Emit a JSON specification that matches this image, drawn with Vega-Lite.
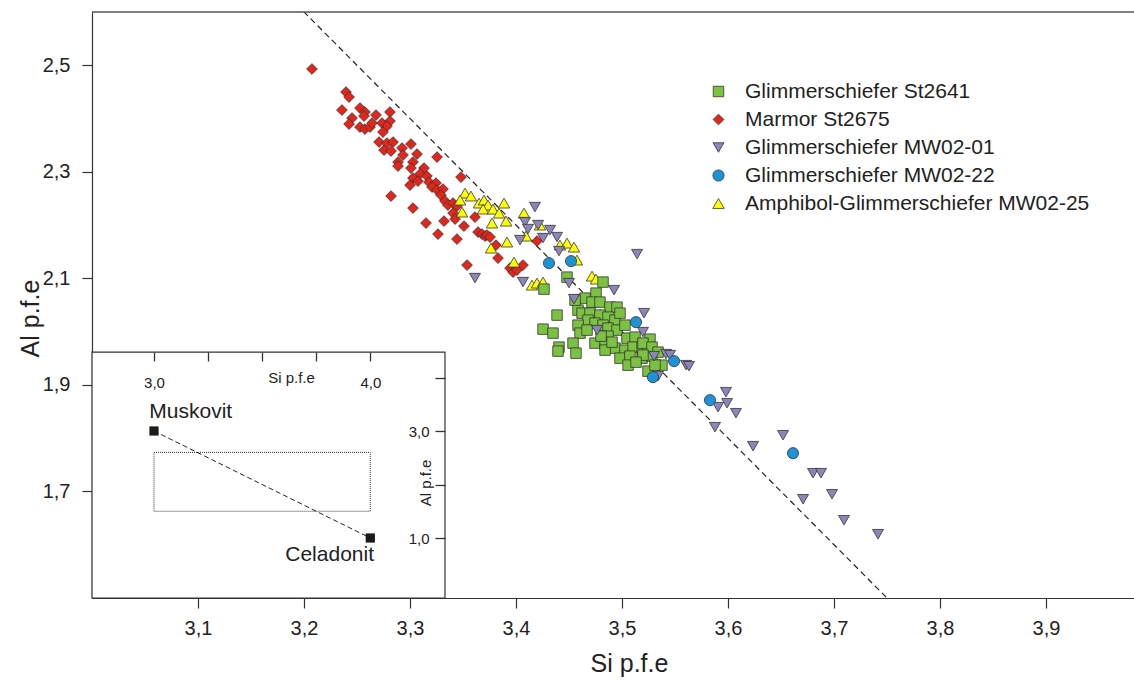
{
  "$schema": "https://vega.github.io/schema/vega-lite/v6.json",
  "width": 1042,
  "height": 586,
  "autosize": "none",
  "padding": {"left": 92, "top": 12, "right": 0, "bottom": 83},
  "background": "white",
  "config": {
    "view": {"stroke": null},
    "font": "Liberation Sans",
    "axis": {"grid": false, "domainColor": "#333", "tickColor": "#333", "labelColor": "#222", "titleColor": "#222", "labelFont": "Liberation Sans", "titleFont": "Liberation Sans", "titleFontWeight": "normal", "domainWidth": 1.2, "tickWidth": 1.2, "labelFlush": false},
    "legend": {"labelFont": "Liberation Sans"}
  },
  "datasets": {
    "punkte": [
      {"Serie": "Marmor St2675", "Si": 3.2075, "Al": 2.4930},
      {"Serie": "Marmor St2675", "Si": 3.2396, "Al": 2.4498},
      {"Serie": "Marmor St2675", "Si": 3.2425, "Al": 2.4404},
      {"Serie": "Marmor St2675", "Si": 3.2358, "Al": 2.4160},
      {"Serie": "Marmor St2675", "Si": 3.2528, "Al": 2.4197},
      {"Serie": "Marmor St2675", "Si": 3.2575, "Al": 2.4122},
      {"Serie": "Marmor St2675", "Si": 3.2566, "Al": 2.4047},
      {"Serie": "Marmor St2675", "Si": 3.2453, "Al": 2.4009},
      {"Serie": "Marmor St2675", "Si": 3.2425, "Al": 2.3897},
      {"Serie": "Marmor St2675", "Si": 3.2528, "Al": 2.3840},
      {"Serie": "Marmor St2675", "Si": 3.2575, "Al": 2.3803},
      {"Serie": "Marmor St2675", "Si": 3.2623, "Al": 2.3840},
      {"Serie": "Marmor St2675", "Si": 3.2642, "Al": 2.3915},
      {"Serie": "Marmor St2675", "Si": 3.2679, "Al": 2.4066},
      {"Serie": "Marmor St2675", "Si": 3.2736, "Al": 2.3915},
      {"Serie": "Marmor St2675", "Si": 3.2811, "Al": 2.4122},
      {"Serie": "Marmor St2675", "Si": 3.2811, "Al": 2.3953},
      {"Serie": "Marmor St2675", "Si": 3.2783, "Al": 2.3859},
      {"Serie": "Marmor St2675", "Si": 3.2745, "Al": 2.3746},
      {"Serie": "Marmor St2675", "Si": 3.2708, "Al": 2.3559},
      {"Serie": "Marmor St2675", "Si": 3.2783, "Al": 2.3540},
      {"Serie": "Marmor St2675", "Si": 3.2840, "Al": 2.3559},
      {"Serie": "Marmor St2675", "Si": 3.2755, "Al": 2.3408},
      {"Serie": "Marmor St2675", "Si": 3.2821, "Al": 2.3390},
      {"Serie": "Marmor St2675", "Si": 3.2925, "Al": 2.3446},
      {"Serie": "Marmor St2675", "Si": 3.3009, "Al": 2.3521},
      {"Serie": "Marmor St2675", "Si": 3.2934, "Al": 2.3315},
      {"Serie": "Marmor St2675", "Si": 3.3066, "Al": 2.3333},
      {"Serie": "Marmor St2675", "Si": 3.2887, "Al": 2.3183},
      {"Serie": "Marmor St2675", "Si": 3.3028, "Al": 2.3183},
      {"Serie": "Marmor St2675", "Si": 3.3255, "Al": 2.3277},
      {"Serie": "Marmor St2675", "Si": 3.2887, "Al": 2.3108},
      {"Serie": "Marmor St2675", "Si": 3.3009, "Al": 2.3070},
      {"Serie": "Marmor St2675", "Si": 3.3132, "Al": 2.3070},
      {"Serie": "Marmor St2675", "Si": 3.3094, "Al": 2.2958},
      {"Serie": "Marmor St2675", "Si": 3.3160, "Al": 2.2920},
      {"Serie": "Marmor St2675", "Si": 3.3028, "Al": 2.2883},
      {"Serie": "Marmor St2675", "Si": 3.3075, "Al": 2.2826},
      {"Serie": "Marmor St2675", "Si": 3.3000, "Al": 2.2751},
      {"Serie": "Marmor St2675", "Si": 3.3179, "Al": 2.2808},
      {"Serie": "Marmor St2675", "Si": 3.3245, "Al": 2.2789},
      {"Serie": "Marmor St2675", "Si": 3.3208, "Al": 2.2714},
      {"Serie": "Marmor St2675", "Si": 3.3255, "Al": 2.2657},
      {"Serie": "Marmor St2675", "Si": 3.3311, "Al": 2.2676},
      {"Serie": "Marmor St2675", "Si": 3.3481, "Al": 2.2901},
      {"Serie": "Marmor St2675", "Si": 3.2821, "Al": 2.2545},
      {"Serie": "Marmor St2675", "Si": 3.3292, "Al": 2.2563},
      {"Serie": "Marmor St2675", "Si": 3.3330, "Al": 2.2451},
      {"Serie": "Marmor St2675", "Si": 3.3358, "Al": 2.2376},
      {"Serie": "Marmor St2675", "Si": 3.3406, "Al": 2.2413},
      {"Serie": "Marmor St2675", "Si": 3.3443, "Al": 2.2357},
      {"Serie": "Marmor St2675", "Si": 3.3028, "Al": 2.2319},
      {"Serie": "Marmor St2675", "Si": 3.3406, "Al": 2.2225},
      {"Serie": "Marmor St2675", "Si": 3.3425, "Al": 2.2113},
      {"Serie": "Marmor St2675", "Si": 3.3321, "Al": 2.2075},
      {"Serie": "Marmor St2675", "Si": 3.3151, "Al": 2.2038},
      {"Serie": "Marmor St2675", "Si": 3.3509, "Al": 2.1981},
      {"Serie": "Marmor St2675", "Si": 3.3264, "Al": 2.1831},
      {"Serie": "Marmor St2675", "Si": 3.3443, "Al": 2.1737},
      {"Serie": "Marmor St2675", "Si": 3.3613, "Al": 2.2150},
      {"Serie": "Marmor St2675", "Si": 3.3642, "Al": 2.1869},
      {"Serie": "Marmor St2675", "Si": 3.3679, "Al": 2.1831},
      {"Serie": "Marmor St2675", "Si": 3.3708, "Al": 2.1793},
      {"Serie": "Marmor St2675", "Si": 3.3726, "Al": 2.1812},
      {"Serie": "Marmor St2675", "Si": 3.3755, "Al": 2.1775},
      {"Serie": "Marmor St2675", "Si": 3.3811, "Al": 2.1624},
      {"Serie": "Marmor St2675", "Si": 3.3830, "Al": 2.1380},
      {"Serie": "Marmor St2675", "Si": 3.3538, "Al": 2.1249},
      {"Serie": "Marmor St2675", "Si": 3.3943, "Al": 2.1192},
      {"Serie": "Marmor St2675", "Si": 3.3972, "Al": 2.1117},
      {"Serie": "Marmor St2675", "Si": 3.4009, "Al": 2.1155},
      {"Serie": "Marmor St2675", "Si": 3.4066, "Al": 2.1249},
      {"Serie": "Marmor St2675", "Si": 3.4198, "Al": 2.1700},
      {"Serie": "Amphibol-Glimmerschiefer MW02-25", "Si": 3.3519, "Al": 2.2601},
      {"Serie": "Amphibol-Glimmerschiefer MW02-25", "Si": 3.3575, "Al": 2.2545},
      {"Serie": "Amphibol-Glimmerschiefer MW02-25", "Si": 3.3472, "Al": 2.2469},
      {"Serie": "Amphibol-Glimmerschiefer MW02-25", "Si": 3.3651, "Al": 2.2413},
      {"Serie": "Amphibol-Glimmerschiefer MW02-25", "Si": 3.3698, "Al": 2.2469},
      {"Serie": "Amphibol-Glimmerschiefer MW02-25", "Si": 3.3736, "Al": 2.2376},
      {"Serie": "Amphibol-Glimmerschiefer MW02-25", "Si": 3.3491, "Al": 2.2244},
      {"Serie": "Amphibol-Glimmerschiefer MW02-25", "Si": 3.3689, "Al": 2.2300},
      {"Serie": "Amphibol-Glimmerschiefer MW02-25", "Si": 3.3783, "Al": 2.2300},
      {"Serie": "Amphibol-Glimmerschiefer MW02-25", "Si": 3.3887, "Al": 2.2413},
      {"Serie": "Amphibol-Glimmerschiefer MW02-25", "Si": 3.3840, "Al": 2.2225},
      {"Serie": "Amphibol-Glimmerschiefer MW02-25", "Si": 3.3906, "Al": 2.2075},
      {"Serie": "Amphibol-Glimmerschiefer MW02-25", "Si": 3.3774, "Al": 2.2038},
      {"Serie": "Amphibol-Glimmerschiefer MW02-25", "Si": 3.4075, "Al": 2.2225},
      {"Serie": "Amphibol-Glimmerschiefer MW02-25", "Si": 3.4094, "Al": 2.1793},
      {"Serie": "Amphibol-Glimmerschiefer MW02-25", "Si": 3.3915, "Al": 2.1681},
      {"Serie": "Amphibol-Glimmerschiefer MW02-25", "Si": 3.3764, "Al": 2.1568},
      {"Serie": "Amphibol-Glimmerschiefer MW02-25", "Si": 3.3981, "Al": 2.1305},
      {"Serie": "Amphibol-Glimmerschiefer MW02-25", "Si": 3.4151, "Al": 2.0873},
      {"Serie": "Amphibol-Glimmerschiefer MW02-25", "Si": 3.4226, "Al": 2.2000},
      {"Serie": "Amphibol-Glimmerschiefer MW02-25", "Si": 3.4415, "Al": 2.1624},
      {"Serie": "Amphibol-Glimmerschiefer MW02-25", "Si": 3.4481, "Al": 2.1662},
      {"Serie": "Amphibol-Glimmerschiefer MW02-25", "Si": 3.4547, "Al": 2.1587},
      {"Serie": "Amphibol-Glimmerschiefer MW02-25", "Si": 3.4575, "Al": 2.1343},
      {"Serie": "Amphibol-Glimmerschiefer MW02-25", "Si": 3.4198, "Al": 2.0911},
      {"Serie": "Amphibol-Glimmerschiefer MW02-25", "Si": 3.4255, "Al": 2.0930},
      {"Serie": "Amphibol-Glimmerschiefer MW02-25", "Si": 3.4717, "Al": 2.1042},
      {"Serie": "Amphibol-Glimmerschiefer MW02-25", "Si": 3.4755, "Al": 2.0986},
      {"Serie": "Glimmerschiefer St2641", "Si": 3.4481, "Al": 2.1023},
      {"Serie": "Glimmerschiefer St2641", "Si": 3.4264, "Al": 2.0798},
      {"Serie": "Glimmerschiefer St2641", "Si": 3.4821, "Al": 2.0930},
      {"Serie": "Glimmerschiefer St2641", "Si": 3.4755, "Al": 2.0723},
      {"Serie": "Glimmerschiefer St2641", "Si": 3.4651, "Al": 2.0629},
      {"Serie": "Glimmerschiefer St2641", "Si": 3.4717, "Al": 2.0554},
      {"Serie": "Glimmerschiefer St2641", "Si": 3.4792, "Al": 2.0554},
      {"Serie": "Glimmerschiefer St2641", "Si": 3.4887, "Al": 2.0460},
      {"Serie": "Glimmerschiefer St2641", "Si": 3.4953, "Al": 2.0460},
      {"Serie": "Glimmerschiefer St2641", "Si": 3.4387, "Al": 2.0310},
      {"Serie": "Glimmerschiefer St2641", "Si": 3.4585, "Al": 2.0404},
      {"Serie": "Glimmerschiefer St2641", "Si": 3.4623, "Al": 2.0347},
      {"Serie": "Glimmerschiefer St2641", "Si": 3.4698, "Al": 2.0347},
      {"Serie": "Glimmerschiefer St2641", "Si": 3.4792, "Al": 2.0310},
      {"Serie": "Glimmerschiefer St2641", "Si": 3.4868, "Al": 2.0272},
      {"Serie": "Glimmerschiefer St2641", "Si": 3.4934, "Al": 2.0216},
      {"Serie": "Glimmerschiefer St2641", "Si": 3.4679, "Al": 2.0216},
      {"Serie": "Glimmerschiefer St2641", "Si": 3.4745, "Al": 2.0160},
      {"Serie": "Glimmerschiefer St2641", "Si": 3.4821, "Al": 2.0122},
      {"Serie": "Glimmerschiefer St2641", "Si": 3.4255, "Al": 2.0047},
      {"Serie": "Glimmerschiefer St2641", "Si": 3.4349, "Al": 1.9972},
      {"Serie": "Glimmerschiefer St2641", "Si": 3.4585, "Al": 2.0122},
      {"Serie": "Glimmerschiefer St2641", "Si": 3.4604, "Al": 1.9972},
      {"Serie": "Glimmerschiefer St2641", "Si": 3.4670, "Al": 2.0028},
      {"Serie": "Glimmerschiefer St2641", "Si": 3.4868, "Al": 2.0066},
      {"Serie": "Glimmerschiefer St2641", "Si": 3.4953, "Al": 2.0028},
      {"Serie": "Glimmerschiefer St2641", "Si": 3.5028, "Al": 2.0122},
      {"Serie": "Glimmerschiefer St2641", "Si": 3.4868, "Al": 1.9915},
      {"Serie": "Glimmerschiefer St2641", "Si": 3.5047, "Al": 1.9878},
      {"Serie": "Glimmerschiefer St2641", "Si": 3.5123, "Al": 1.9897},
      {"Serie": "Glimmerschiefer St2641", "Si": 3.5264, "Al": 1.9859},
      {"Serie": "Glimmerschiefer St2641", "Si": 3.4538, "Al": 1.9784},
      {"Serie": "Glimmerschiefer St2641", "Si": 3.4745, "Al": 1.9784},
      {"Serie": "Glimmerschiefer St2641", "Si": 3.4840, "Al": 1.9765},
      {"Serie": "Glimmerschiefer St2641", "Si": 3.4406, "Al": 1.9709},
      {"Serie": "Glimmerschiefer St2641", "Si": 3.4396, "Al": 1.9634},
      {"Serie": "Glimmerschiefer St2641", "Si": 3.4566, "Al": 1.9596},
      {"Serie": "Glimmerschiefer St2641", "Si": 3.4934, "Al": 1.9690},
      {"Serie": "Glimmerschiefer St2641", "Si": 3.5028, "Al": 1.9653},
      {"Serie": "Glimmerschiefer St2641", "Si": 3.5104, "Al": 1.9709},
      {"Serie": "Glimmerschiefer St2641", "Si": 3.5189, "Al": 1.9709},
      {"Serie": "Glimmerschiefer St2641", "Si": 3.5245, "Al": 1.9690},
      {"Serie": "Glimmerschiefer St2641", "Si": 3.4840, "Al": 1.9653},
      {"Serie": "Glimmerschiefer St2641", "Si": 3.4981, "Al": 1.9502},
      {"Serie": "Glimmerschiefer St2641", "Si": 3.5075, "Al": 1.9540},
      {"Serie": "Glimmerschiefer St2641", "Si": 3.5189, "Al": 1.9502},
      {"Serie": "Glimmerschiefer St2641", "Si": 3.5283, "Al": 1.9540},
      {"Serie": "Glimmerschiefer St2641", "Si": 3.5057, "Al": 1.9371},
      {"Serie": "Glimmerschiefer St2641", "Si": 3.5377, "Al": 1.9371},
      {"Serie": "Glimmerschiefer St2641", "Si": 3.5245, "Al": 1.9258},
      {"Serie": "Glimmerschiefer St2641", "Si": 3.5198, "Al": 1.9784},
      {"Serie": "Glimmerschiefer St2641", "Si": 3.5283, "Al": 1.9709},
      {"Serie": "Glimmerschiefer St2641", "Si": 3.5198, "Al": 1.9559},
      {"Serie": "Glimmerschiefer St2641", "Si": 3.5340, "Al": 1.9615},
      {"Serie": "Glimmerschiefer St2641", "Si": 3.5311, "Al": 1.9371},
      {"Serie": "Glimmerschiefer St2641", "Si": 3.4557, "Al": 2.0591},
      {"Serie": "Glimmerschiefer St2641", "Si": 3.4981, "Al": 2.0347},
      {"Serie": "Glimmerschiefer St2641", "Si": 3.4802, "Al": 1.9915},
      {"Serie": "Glimmerschiefer St2641", "Si": 3.4906, "Al": 1.9803},
      {"Serie": "Glimmerschiefer St2641", "Si": 3.5132, "Al": 1.9427},
      {"Serie": "Glimmerschiefer MW02-01", "Si": 3.4179, "Al": 2.2338},
      {"Serie": "Glimmerschiefer MW02-01", "Si": 3.4085, "Al": 2.2056},
      {"Serie": "Glimmerschiefer MW02-01", "Si": 3.4113, "Al": 2.1925},
      {"Serie": "Glimmerschiefer MW02-01", "Si": 3.4208, "Al": 2.2000},
      {"Serie": "Glimmerschiefer MW02-01", "Si": 3.4038, "Al": 2.1718},
      {"Serie": "Glimmerschiefer MW02-01", "Si": 3.3613, "Al": 2.1005},
      {"Serie": "Glimmerschiefer MW02-01", "Si": 3.4066, "Al": 2.0930},
      {"Serie": "Glimmerschiefer MW02-01", "Si": 3.4321, "Al": 2.1906},
      {"Serie": "Glimmerschiefer MW02-01", "Si": 3.4255, "Al": 2.1756},
      {"Serie": "Glimmerschiefer MW02-01", "Si": 3.4387, "Al": 2.1775},
      {"Serie": "Glimmerschiefer MW02-01", "Si": 3.4406, "Al": 2.1512},
      {"Serie": "Glimmerschiefer MW02-01", "Si": 3.5142, "Al": 2.1455},
      {"Serie": "Glimmerschiefer MW02-01", "Si": 3.4500, "Al": 2.0911},
      {"Serie": "Glimmerschiefer MW02-01", "Si": 3.4925, "Al": 2.0779},
      {"Serie": "Glimmerschiefer MW02-01", "Si": 3.4547, "Al": 2.0610},
      {"Serie": "Glimmerschiefer MW02-01", "Si": 3.5208, "Al": 2.0347},
      {"Serie": "Glimmerschiefer MW02-01", "Si": 3.4764, "Al": 2.0028},
      {"Serie": "Glimmerschiefer MW02-01", "Si": 3.5198, "Al": 1.9991},
      {"Serie": "Glimmerschiefer MW02-01", "Si": 3.5302, "Al": 1.9540},
      {"Serie": "Glimmerschiefer MW02-01", "Si": 3.5415, "Al": 1.9578},
      {"Serie": "Glimmerschiefer MW02-01", "Si": 3.5453, "Al": 1.9559},
      {"Serie": "Glimmerschiefer MW02-01", "Si": 3.5604, "Al": 1.9371},
      {"Serie": "Glimmerschiefer MW02-01", "Si": 3.5632, "Al": 1.9352},
      {"Serie": "Glimmerschiefer MW02-01", "Si": 3.5340, "Al": 1.9164},
      {"Serie": "Glimmerschiefer MW02-01", "Si": 3.5981, "Al": 1.8864},
      {"Serie": "Glimmerschiefer MW02-01", "Si": 3.5906, "Al": 1.8582},
      {"Serie": "Glimmerschiefer MW02-01", "Si": 3.5991, "Al": 1.8657},
      {"Serie": "Glimmerschiefer MW02-01", "Si": 3.6075, "Al": 1.8469},
      {"Serie": "Glimmerschiefer MW02-01", "Si": 3.5877, "Al": 1.8207},
      {"Serie": "Glimmerschiefer MW02-01", "Si": 3.6519, "Al": 1.8056},
      {"Serie": "Glimmerschiefer MW02-01", "Si": 3.6236, "Al": 1.7850},
      {"Serie": "Glimmerschiefer MW02-01", "Si": 3.6802, "Al": 1.7343},
      {"Serie": "Glimmerschiefer MW02-01", "Si": 3.6877, "Al": 1.7343},
      {"Serie": "Glimmerschiefer MW02-01", "Si": 3.6981, "Al": 1.6948},
      {"Serie": "Glimmerschiefer MW02-01", "Si": 3.6708, "Al": 1.6854},
      {"Serie": "Glimmerschiefer MW02-01", "Si": 3.7094, "Al": 1.6460},
      {"Serie": "Glimmerschiefer MW02-01", "Si": 3.7415, "Al": 1.6197},
      {"Serie": "Glimmerschiefer MW02-22", "Si": 3.4311, "Al": 2.1286},
      {"Serie": "Glimmerschiefer MW02-22", "Si": 3.4519, "Al": 2.1324},
      {"Serie": "Glimmerschiefer MW02-22", "Si": 3.5132, "Al": 2.0178},
      {"Serie": "Glimmerschiefer MW02-22", "Si": 3.5491, "Al": 1.9446},
      {"Serie": "Glimmerschiefer MW02-22", "Si": 3.5292, "Al": 1.9146},
      {"Serie": "Glimmerschiefer MW02-22", "Si": 3.5830, "Al": 1.8714},
      {"Serie": "Glimmerschiefer MW02-22", "Si": 3.6613, "Al": 1.7718}
    ],
    "endglieder": [
      {"Mineral": "Muskovit", "Si": 3.0, "Al": 3.0},
      {"Mineral": "Celadonit", "Si": 4.0, "Al": 1.0}
    ]
  },
  "layer": [
    {
      "layer": [
        {
          "data": {"name": "endglieder"},
          "mark": {"type": "line", "strokeDash": [6, 4], "color": "#222", "strokeWidth": 1.2, "clip": true},
          "encoding": {
            "x": {"field": "Si", "type": "quantitative", "title": "Si p.f.e",
              "scale": {"domain": [3.0, 3.983], "zero": false, "nice": false},
              "axis": {"orient": "bottom", "values": [3.1, 3.2, 3.3, 3.4, 3.5, 3.6, 3.7, 3.8, 3.9],
                "labelExpr": "replace(format(datum.value, '.1f'), '.', ',')",
                "tickSize": 10, "labelFontSize": 20, "labelPadding": 10,
                "titleFontSize": 25, "titleX": 537, "titleY": 65, "titleBaseline": "middle", "titleAlign": "center"}},
            "y": {"field": "Al", "type": "quantitative", "title": "Al p.f.e",
              "scale": {"domain": [1.5, 2.6], "zero": false, "nice": false},
              "axis": {"orient": "left", "values": [1.7, 1.9, 2.1, 2.3, 2.5],
                "labelExpr": "replace(format(datum.value, '.1f'), '.', ',')",
                "tickSize": 10, "labelFontSize": 20, "labelPadding": 12,
                "titleFontSize": 25, "titleX": -62, "titleY": 306, "titleAngle": -90, "titleBaseline": "middle", "titleAlign": "center"}}
          }
        },
        {
          "data": {"name": "punkte"},
          "mark": {"type": "point", "filled": true, "opacity": 1, "stroke": "#333", "strokeWidth": 0.8},
          "encoding": {
            "x": {"field": "Si", "type": "quantitative", "title": "Si p.f.e"},
            "y": {"field": "Al", "type": "quantitative", "title": "Al p.f.e"},
            "color": {"field": "Serie", "type": "nominal",
              "scale": {"domain": ["Glimmerschiefer St2641", "Marmor St2675", "Glimmerschiefer MW02-01", "Glimmerschiefer MW02-22", "Amphibol-Glimmerschiefer MW02-25"],
                "range": ["#7cc242", "#e1261c", "#8a86bc", "#1d92d6", "#ffff00"]},
              "legend": {"orient": "none", "legendX": 616, "legendY": 69, "title": null, "symbolSize": 100,
                "labelFontSize": 21, "labelColor": "#222", "labelOffset": 16, "labelLimit": 0, "rowPadding": 6,
                "symbolStrokeColor": "#333", "symbolStrokeWidth": 0.8, "padding": 0}},
            "shape": {"field": "Serie", "type": "nominal",
              "scale": {"domain": ["Glimmerschiefer St2641", "Marmor St2675", "Glimmerschiefer MW02-01", "Glimmerschiefer MW02-22", "Amphibol-Glimmerschiefer MW02-25"],
                "range": ["square", "diamond", "triangle-down", "circle", "triangle-up"]}},
            "size": {"field": "Serie", "type": "nominal", "legend": null,
              "scale": {"domain": ["Glimmerschiefer St2641", "Marmor St2675", "Glimmerschiefer MW02-01", "Glimmerschiefer MW02-22", "Amphibol-Glimmerschiefer MW02-25"],
                "range": [110, 130, 180, 115, 165]}}
          }
        },
        {
          "data": {"values": [{"Si": 3.0, "Si2": 3.333, "Al": 1.5, "Al2": 1.9615}]},
          "mark": {"type": "rect", "fill": "white", "stroke": "#333", "strokeWidth": 1.2},
          "encoding": {
            "x": {"field": "Si", "type": "quantitative", "title": "Si p.f.e"},
            "x2": {"field": "Si2"},
            "y": {"field": "Al", "type": "quantitative", "title": "Al p.f.e"},
            "y2": {"field": "Al2"}
          }
        },
        {
          "data": {"values": [{"Al": 2.6}]},
          "mark": {"type": "rule", "color": "#555", "strokeWidth": 1.5},
          "encoding": {"y": {"field": "Al", "type": "quantitative", "title": "Al p.f.e"}}
        }
      ]
    },
    {
      "layer": [
        {
          "data": {"name": "endglieder"},
          "mark": {"type": "line", "strokeDash": [5, 3], "color": "#222", "strokeWidth": 1},
          "encoding": {
            "x": {"field": "Si", "type": "quantitative", "title": "Si p.f.e",
              "scale": {"domain": [3, 4], "range": [62, 278.3], "zero": false, "nice": false},
              "axis": {"orient": "bottom", "offset": -246, "values": [3, 3.25, 3.5, 3.75, 4], "zindex": 2,
                "labelExpr": "datum.value == 3 || datum.value == 4 ? replace(format(datum.value, '.1f'), '.', ',') : ''",
                "ticks": true, "tickColor": "#333", "tickOpacity": 1, "tickWidth": 1.3,
                "tickSize": 9, "labelFontSize": 15, "labelPadding": 14, "labelFlush": false, "domain": false,
                "titleFontSize": 15, "titleX": 199, "titleY": 30, "titleBaseline": "alphabetic", "titleAlign": "center"}},
            "y": {"field": "Al", "type": "quantitative", "title": "Al p.f.e",
              "scale": {"domain": [1, 4], "range": [526, 365.5], "zero": false, "nice": false},
              "axis": {"orient": "left", "offset": -353, "values": [1, 2, 3, 4], "zindex": 2,
                "labelExpr": "datum.value == 1 || datum.value == 3 ? replace(format(datum.value, '.1f'), '.', ',') : ''",
                "ticks": true, "tickColor": "#333", "tickOpacity": 1, "tickWidth": 1.3,
                "tickSize": 10, "labelFontSize": 15, "labelPadding": 6, "labelFlush": false, "domain": false,
                "titleFontSize": 15, "titleX": -15, "titleY": 470.5, "titleAngle": -90, "titleBaseline": "alphabetic", "titleAlign": "center"}}
          }
        },
        {
          "data": {"values": [{"Si": 3.0, "Si2": 4.0, "Al": 1.5, "Al2": 2.6}]},
          "mark": {"type": "rect", "filled": false, "stroke": "#333", "strokeWidth": 1, "strokeDash": [1, 1]},
          "encoding": {
            "x": {"field": "Si", "type": "quantitative", "title": "Si p.f.e"},
            "x2": {"field": "Si2"},
            "y": {"field": "Al", "type": "quantitative", "title": "Al p.f.e"},
            "y2": {"field": "Al2"}
          }
        },
        {
          "data": {"name": "endglieder"},
          "mark": {"type": "square", "filled": true, "color": "#1a1a1a", "size": 85, "opacity": 1},
          "encoding": {
            "x": {"field": "Si", "type": "quantitative", "title": "Si p.f.e"},
            "y": {"field": "Al", "type": "quantitative", "title": "Al p.f.e"}
          }
        },
        {
          "data": {"name": "endglieder"},
          "transform": [{"filter": "datum.Mineral == 'Muskovit'"}],
          "mark": {"type": "text", "fontSize": 21, "color": "#222", "align": "left", "baseline": "alphabetic", "dx": -4.7, "dy": -12.7},
          "encoding": {
            "x": {"field": "Si", "type": "quantitative", "title": "Si p.f.e"},
            "y": {"field": "Al", "type": "quantitative", "title": "Al p.f.e"},
            "text": {"field": "Mineral"}
          }
        },
        {
          "data": {"name": "endglieder"},
          "transform": [{"filter": "datum.Mineral == 'Celadonit'"}],
          "mark": {"type": "text", "fontSize": 21, "color": "#222", "align": "right", "baseline": "alphabetic", "dx": 3.7, "dy": 23.3},
          "encoding": {
            "x": {"field": "Si", "type": "quantitative", "title": "Si p.f.e"},
            "y": {"field": "Al", "type": "quantitative", "title": "Al p.f.e"},
            "text": {"field": "Mineral"}
          }
        }
      ]
    }
  ],
  "resolve": {"scale": {"x": "independent", "y": "independent"}, "axis": {"x": "independent", "y": "independent"}}
}
